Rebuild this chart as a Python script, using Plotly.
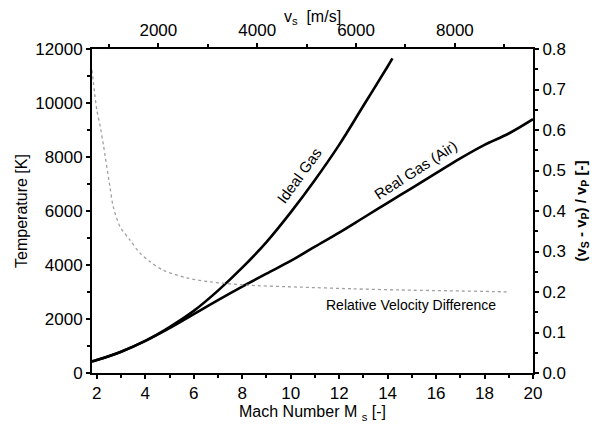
import plotly.graph_objects as go

# Mach numbers and temperatures
mach_ideal = [1.8, 2, 3, 4, 5, 6, 7, 8, 9, 10, 11, 12, 13, 14, 14.2]
temp_ideal = [430, 480, 790, 1190, 1700, 2300, 3050, 3900, 4850, 5950, 7150, 8450, 9900, 11350, 11650]

mach_real = [1.8, 2, 3, 4, 5, 6, 7, 8, 9, 10, 11, 12, 13, 14, 15, 16, 17, 18, 19, 20]
temp_real = [430, 480, 790, 1190, 1660, 2180, 2700, 3200, 3680, 4150, 4680, 5200, 5750, 6300,
             6850, 7400, 7950, 8450, 8870, 9400]

mach_rel = [1.8, 2.0, 2.13, 2.27, 2.54, 2.68, 2.96, 3.37, 3.78, 4.19, 4.73, 5.71, 6.67, 8.18,
            10.4, 12.5, 14.5, 16.5, 18.4, 19.0]
rel_diff = [0.748, 0.649, 0.612, 0.563, 0.46, 0.41, 0.361, 0.328, 0.296, 0.275, 0.254, 0.235,
            0.225, 0.217, 0.212, 0.208, 0.205, 0.203, 0.201, 0.2]

vs_range = [658, 9580]

FONT = "Liberation Sans, Arial, sans-serif"

fig = go.Figure()
fig.add_trace(go.Scatter(x=mach_rel, y=rel_diff, mode="lines", xaxis="x", yaxis="y2",
                         line=dict(color="#a0a0a0", width=1.3, dash="dot", shape="spline",
                                   smoothing=0.8),
                         showlegend=False, hoverinfo="skip"))
fig.add_trace(go.Scatter(x=mach_ideal, y=temp_ideal, mode="lines",
                         line=dict(color="black", width=2.6, shape="spline"), showlegend=False))
fig.add_trace(go.Scatter(x=mach_real, y=temp_real, mode="lines",
                         line=dict(color="black", width=2.6, shape="spline"), showlegend=False))
# invisible trace to activate the top axis
fig.add_trace(go.Scatter(x=vs_range, y=[None, None], xaxis="x2", yaxis="y", mode="lines",
                         showlegend=False, hoverinfo="skip"))

tickfont = dict(family=FONT, size=17, color="black")
common = dict(showgrid=False, zeroline=False, showline=True, linecolor="black", linewidth=2,
              ticks="outside", ticklen=4, tickwidth=2, tickcolor="black", tickfont=tickfont,
              automargin=False)
minor_style = dict(ticklen=3, tickwidth=1.5, ticks="outside", tickcolor="black")

# the page body adds an 8px offset; the figure is sized so the plot box lands where the reference has it
fig.update_layout(
    width=597, height=418,
    margin=dict(l=84, r=72, t=41, b=53),
    paper_bgcolor="white", plot_bgcolor="white",
    font=dict(family=FONT, color="black"),
    xaxis=dict(range=[1.8, 20], dtick=2, tick0=0, minor=dict(dtick=1, **minor_style),
               title=dict(text="Mach Number M <sub>s</sub> [-]", font=dict(family=FONT, size=16),
                          standoff=0),
               **common),
    xaxis2=dict(range=vs_range, overlaying="x", side="top", dtick=2000, tick0=0,
                minor=dict(dtick=1000, **minor_style),
                title=dict(text="v<sub>s</sub>  [m/s]", font=dict(family=FONT, size=16), standoff=0),
                **common),
    yaxis=dict(range=[0, 12000], dtick=2000, tickformat="d",
               minor=dict(dtick=1000, **minor_style),
               title=dict(text="Temperature [K]", font=dict(family=FONT, size=16), standoff=4),
               **common),
    yaxis2=dict(range=[0, 0.8], overlaying="y", side="right", dtick=0.1, tickformat=".1f",
                minor=dict(dtick=0.05, **minor_style),
                title=dict(text="<b>(v<sub>S</sub> - v<sub>P</sub>) / v<sub>P</sub> [-]</b>",
                           font=dict(family=FONT, size=15), standoff=10),
                **common),
    annotations=[
        dict(x=10.34, y=7320, xref="x", yref="y", text="Ideal Gas", showarrow=False,
             textangle=-54, font=dict(family=FONT, size=15, color="black")),
        dict(x=15.17, y=7540, xref="x", yref="y", text="Real Gas (Air)", showarrow=False,
             textangle=-33, font=dict(family=FONT, size=15, color="black")),
        dict(x=14.97, y=2520, xref="x", yref="y", text="Relative Velocity Difference",
             showarrow=False, font=dict(family=FONT, size=14, color="black")),
    ],
)

fig.write_html("out.html")
